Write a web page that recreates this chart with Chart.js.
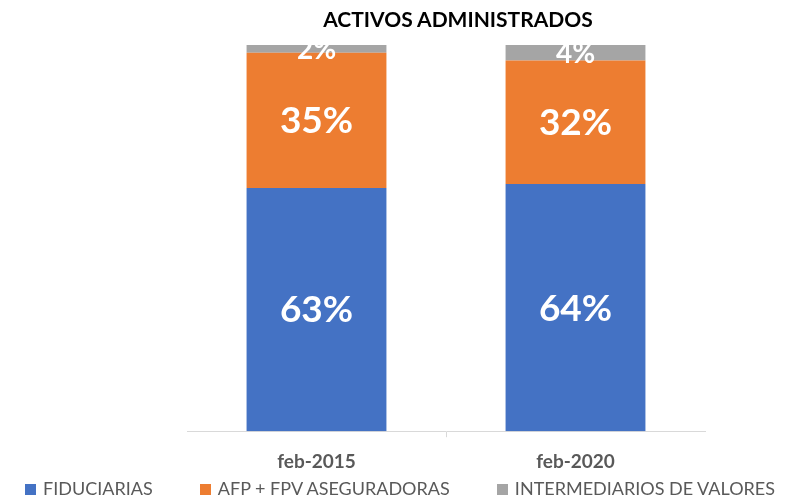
<!DOCTYPE html>
<html>
<head>
<meta charset="utf-8">
<script src="https://cdn.jsdelivr.net/npm/chart.js@4"></script>
<style>
  body { margin: 0; background: #fff; }
  #wrap { position: relative; width: 785px; height: 498px; overflow: hidden; }
  #myChart { position: absolute; left: 0; top: 0; }
  #title {
    position: absolute; left: 358px; top: 6px; width: 200px; text-align: center;
    white-space: nowrap; display: flex; justify-content: center;
    font-family: Lato, sans-serif; font-size: 21px; font-weight: bold; color: #000;
  }
  #legend {
    position: absolute; left: 0; top: 477px; width: 785px; box-sizing: border-box;
    padding: 0 10px 0 25px;
    display: flex; justify-content: space-between;
    font-family: Lato, "Open Sans", sans-serif; font-size: 18px; color: #595959;
  }
  #legend span.box { display: inline-block; width: 11px; height: 11px; margin-right: 7px; }
</style>
</head>
<body>
<div id="wrap">
  <canvas id="myChart" width="785" height="486"></canvas>
  <div id="title">ACTIVOS ADMINISTRADOS</div>
  <div id="legend"></div>
</div>
<script>
// Data
var categories = ["feb-2015", "feb-2020"];
var fiduciarias = [63, 64];
var afpAseguradoras = [35, 32];
var intermediarios = [2, 4];

var seriesNames = ["FIDUCIARIAS", "AFP + FPV ASEGURADORAS", "INTERMEDIARIOS DE VALORES"];
var seriesColors = ["#4472C4", "#ED7D31", "#A5A5A5"];

// white percentage labels centred in each segment
var segmentLabels = {
  id: "segmentLabels",
  afterDatasetsDraw: function (chart) {
    var ctx = chart.ctx;
    ctx.save();
    ctx.fillStyle = "#fff";
    ctx.textAlign = "center";
    ctx.textBaseline = "middle";
    chart.data.datasets.forEach(function (ds, i) {
      var meta = chart.getDatasetMeta(i);
      meta.data.forEach(function (bar, j) {
        var v = ds.data[j];
        var size = v < 10 ? 28 : 37;
        ctx.font = "bold " + size + "px Lato";
        ctx.fillText(v + "%", bar.x, (bar.y + bar.base) / 2 + 1);
      });
    });
    ctx.restore();
  }
};

var ctx = document.getElementById("myChart").getContext("2d");
var myChart = new Chart(ctx, {
  type: "bar",
  data: {
    labels: categories,
    datasets: [
      { label: seriesNames[0], data: fiduciarias, backgroundColor: seriesColors[0] },
      { label: seriesNames[1], data: afpAseguradoras, backgroundColor: seriesColors[1] },
      { label: seriesNames[2], data: intermediarios, backgroundColor: seriesColors[2] },
    ],
  },
  options: {
    responsive: false,
    animation: false,
    layout: { padding: { left: 187, right: 80, top: 45, bottom: 0 } },
    datasets: {
      bar: { categoryPercentage: 1, barPercentage: 0.54 },
    },
    scales: {
      x: {
        stacked: true,
        offset: true,
        border: { color: "#D9D9D9", width: 1 },
        grid: {
          offset: true,
          drawOnChartArea: false,
          tickLength: 6,
          color: function (c) { return c.index === 1 ? "#D9D9D9" : "rgba(0,0,0,0)"; },
        },
        ticks: {
          padding: 13,
          color: "#595959",
          font: { family: "Lato", size: 19, weight: "bold" },
        },
      },
      y: { stacked: true, min: 0, max: 100, display: false },
    },
    plugins: {
      legend: { display: false },
      tooltip: { enabled: false },
      title: { display: false },
    },
  },
  plugins: [segmentLabels],
});

// HTML legend built from the datasets
var legendEl = document.getElementById("legend");
myChart.data.datasets.forEach(function (ds) {
  var item = document.createElement("div");
  item.innerHTML = '<span class="box" style="background:' + ds.backgroundColor + '"></span>' + ds.label;
  legendEl.appendChild(item);
});
</script>
</body>
</html>
